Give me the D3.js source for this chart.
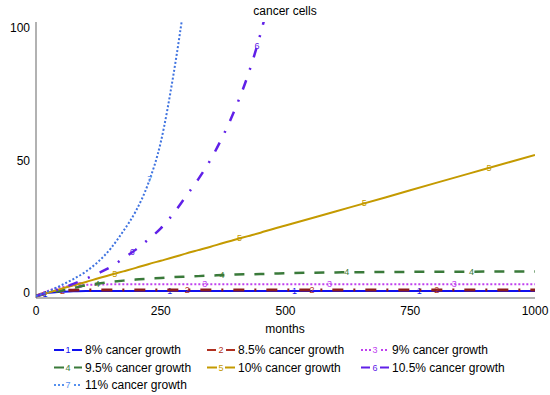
<!DOCTYPE html>
<html><head><meta charset="utf-8">
<script src="https://cdn.jsdelivr.net/npm/d3@7"></script>
<style>body{margin:0;background:#fff}svg{display:block;font-family:"Liberation Sans",Arial,sans-serif}</style>
</head><body><svg id="c" width="550" height="395"></svg>
<script>
const months = [0,25,50,75,100,125,150,175,200,225,250,275,300,325,350,375,400,425,450,475,500,600,700,800,900,1000];
const growth8   = [0,1.2,1.6,1.8,1.9,1.9,1.9,1.9,1.9,1.9,1.9,1.9,1.9,1.9,1.9,1.9,1.9,1.9,1.9,1.9,1.9,1.9,1.9,1.9,1.9,1.9];
const growth85  = [0,1.4,2.0,2.2,2.3,2.3,2.3,2.3,2.3,2.3,2.3,2.3,2.3,2.3,2.3,2.3,2.3,2.3,2.3,2.3,2.3,2.3,2.3,2.3,2.3,2.3];
const growth9   = [0,2.0,3.3,3.9,4.2,4.3,4.4,4.4,4.4,4.4,4.4,4.4,4.4,4.4,4.4,4.4,4.4,4.4,4.4,4.4,4.4,4.4,4.4,4.4,4.4,4.4];
const growth95  = [0,1.0,2.0,3.0,4.0,4.7,5.3,5.8,6.2,6.5,6.8,7.1,7.3,7.5,7.7,7.9,8.1,8.2,8.3,8.45,8.6,8.9,9.05,9.15,9.2,9.2];
const growth10  = [0,1.3,2.7,4.0,5.3,6.7,8.0,9.3,10.6,12.0,13.3,14.6,16.0,17.3,18.6,20.0,21.3,22.6,23.9,25.3,26.6,31.9,37.2,42.6,47.9,53.2];
const growth105 = [0,1.3,2.8,4.6,6.5,8.6,11,14.2,17.5,21.3,25.5,31,37.5,44,51.5,60.5,71,83.5,99,118,null,null,null,null,null,null];
const growth11  = [0,1.8,4.0,6.4,9.2,13,18,24.5,32,42.5,58,83,114,null,null,null,null,null,null,null,null,null,null,null,null,null];
const seriesNames = ["8% cancer growth","8.5% cancer growth","9% cancer growth","9.5% cancer growth","10% cancer growth","10.5% cancer growth","11% cancer growth"];
const xTicks = [0,250,500,750,1000];
const yTicks = [0,50,100];

const allSeries = [growth8,growth85,growth9,growth95,growth10,growth105,growth11];
const styles = [
  {color:"#1010ee", w:2,   dash:null},
  {color:"#8e1c1c", w:3,   dash:"11,10,2,10"},
  {color:"#c040f0", w:2,   dash:"2,2"},
  {color:"#3a7a3a", w:2.5, dash:"10,10"},
  {color:"#c49a00", w:2,   dash:null},
  {color:"#6020e8", w:2.5, dash:"10,11,2,11"},
  {color:"#3f73e0", w:2,   dash:"2,2"}
];
const labelColors = ["#1010ee","#b03020","#c040f0","#3a7a3a","#c49a00","#6020e8","#5590ee"];

const svg = d3.select("#c");
const x = d3.scaleLinear().domain([0,1000]).range([36,535]);
const y = d3.scaleLinear().domain([0,100]).range([296,31]);
const plotTop = 22, plotBottom = 298;

svg.append("defs").append("clipPath").attr("id","clip")
  .append("rect").attr("x",x(0)).attr("y",plotTop).attr("width",x(1000)-x(0)).attr("height",plotBottom-plotTop);

svg.append("line").attr("x1",x(0)).attr("x2",x(0)).attr("y1",plotTop).attr("y2",plotBottom).attr("stroke","#999").attr("stroke-width",1.5);
svg.append("line").attr("x1",x(0)).attr("x2",x(1000)).attr("y1",plotBottom).attr("y2",plotBottom).attr("stroke","#999").attr("stroke-width",1.5);

svg.selectAll(".yt").data(yTicks).join("text").attr("x",30).attr("y",d=>y(d)-3)
  .attr("text-anchor","end").attr("dominant-baseline","central").attr("font-size",12).text(d=>d);
svg.selectAll(".xt").data(xTicks).join("text").attr("x",d=>x(d)).attr("y",311)
  .attr("text-anchor","middle").attr("dominant-baseline","central").attr("font-size",12).text(d=>d);
svg.append("text").attr("x",285).attr("y",11).attr("text-anchor","middle").attr("dominant-baseline","central").attr("font-size",12).text("cancer cells");
svg.append("text").attr("x",285).attr("y",329).attr("text-anchor","middle").attr("dominant-baseline","central").attr("font-size",12).text("months");

const g = svg.append("g").attr("clip-path","url(#clip)");
const line = d3.line().defined(d=>d[1]!=null).x(d=>x(d[0])).y(d=>y(d[1])).curve(d3.curveMonotoneX);

allSeries.forEach((vals,i)=>{
  const pts = months.map((m,j)=>[m,vals[j]]);
  const st = styles[i];
  const path = g.append("path").datum(pts).attr("d",line).attr("fill","none")
    .attr("stroke",st.color).attr("stroke-width",st.w)
    .attr("stroke-dasharray",st.dash);
  const node = path.node();
  const total = node.getTotalLength();
  for (let lm = 18 + i*35; lm <= 1000; lm += 250) {
    const px = x(lm);
    let lo=0, hi=total;
    for (let k=0;k<30;k++){ const mid=(lo+hi)/2; if(node.getPointAtLength(mid).x<px) lo=mid; else hi=mid; }
    const p = node.getPointAtLength(lo);
    if (p.y < plotTop+4 || Math.abs(p.x-px)>2) continue;
    g.append("text").attr("x",p.x).attr("y",p.y).attr("text-anchor","middle").attr("dominant-baseline","central")
      .attr("font-size",9).attr("fill",labelColors[i]).text(i+1);
  }
});

const cols = [54,207,361], rows = [350,367.5,385];
seriesNames.forEach((name,i)=>{
  const cx = cols[i%3], cy = rows[Math.floor(i/3)];
  const st = styles[i];
  const lg = svg.append("g");
  lg.append("line").attr("x1",cx).attr("x2",cx+28).attr("y1",cy).attr("y2",cy)
    .attr("stroke",labelColors[i]).attr("stroke-width",2).attr("stroke-dasharray",st.dash ? (i===1||i===5?"9,4,2,4":st.dash) : null);
  lg.append("rect").attr("x",cx+10).attr("y",cy-5).attr("width",8).attr("height",10).attr("fill","#fff");
  lg.append("text").attr("x",cx+14).attr("y",cy).attr("text-anchor","middle").attr("dominant-baseline","central")
    .attr("font-size",9).attr("fill",labelColors[i]).text(i+1);
  lg.append("text").attr("x",cx+31).attr("y",cy).attr("dominant-baseline","central").attr("font-size",12).text(name);
});
</script></body></html>
